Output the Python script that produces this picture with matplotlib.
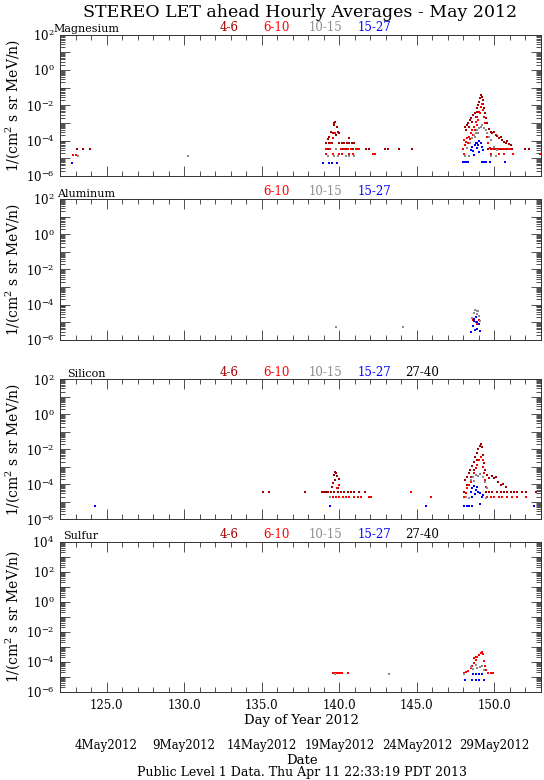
import matplotlib as mpl
mpl.use("Agg")
import matplotlib.pyplot as plt
import numpy as np
from matplotlib.ticker import MultipleLocator, FixedLocator, LogLocator, FuncFormatter, NullFormatter

plt.rcParams['font.family'] = ['DejaVu Serif']
plt.rcParams['mathtext.fontset'] = 'dejavuserif'

# hourly averages: (day of year 2012, log10 flux)
mg_46 = [(123.11, -4.49), (123.46, -4.49), (123.93, -4.49),
         (139.64, -3.02), (139.75, -2.92), (139.68, -3.11), (139.83, -3.21), (139.47, -3.49),
         (139.57, -3.58), (139.90, -3.49), (140.00, -3.58), (139.36, -3.77), (139.79, -3.68),
         (140.65, -3.87), (139.25, -3.92),
         (139.14, -4.15), (139.32, -4.15), (139.53, -4.15), (139.96, -4.15), (140.17, -4.15),
         (140.32, -4.15), (140.47, -4.15), (140.65, -4.15), (140.82, -4.15), (140.97, -4.15),
         (139.25, -4.49), (140.22, -4.49), (140.43, -4.49), (140.86, -4.49), (141.18, -4.49),
         (141.72, -4.49), (141.93, -4.49), (142.96, -4.49), (143.17, -4.49), (143.82, -4.49),
         (144.68, -4.49),
         (148.11, -3.21), (148.21, -3.11), (148.30, -2.98), (148.43, -2.83), (148.51, -2.73),
         (148.64, -2.55), (148.73, -2.41), (148.86, -2.17), (148.94, -1.98), (149.01, -1.79),
         (149.07, -1.60), (149.11, -1.41), (149.20, -1.51), (149.24, -1.70), (149.29, -1.92),
         (149.33, -2.17), (149.39, -2.45), (149.44, -2.73), (149.54, -3.02), (149.65, -3.36),
         (149.76, -3.49), (149.87, -3.58), (149.97, -3.49), (150.08, -3.68), (150.19, -3.74),
         (150.29, -3.87), (150.40, -3.81), (150.51, -3.96), (150.62, -4.06), (150.72, -4.11),
         (150.83, -4.00), (150.94, -4.19), (151.04, -4.24),
         (148.17, -3.40), (148.36, -3.21), (148.58, -2.92), (148.79, -2.64), (148.90, -2.36),
         (149.60, -4.49), (149.80, -4.49), (150.00, -4.49), (150.20, -4.49), (150.45, -4.49),
         (150.60, -4.49), (150.80, -4.49), (151.00, -4.49), (151.15, -4.49), (152.00, -4.49),
         (152.20, -4.49)]
mg_610 = [(122.86, -4.81), (123.00, -4.81),
          (139.14, -4.49), (139.40, -4.49), (139.79, -4.49), (140.11, -4.49), (140.32, -4.49),
          (140.54, -4.49), (140.75, -4.49), (141.07, -4.49), (141.29, -4.49),
          (139.14, -4.75), (139.57, -4.75), (139.96, -4.75), (140.17, -4.75), (140.65, -4.75),
          (140.86, -4.75), (142.19, -4.75), (142.32, -4.75),
          (139.47, -4.15), (139.57, -3.87), (139.75, -3.58),
          (148.04, -3.96), (148.15, -4.06), (148.26, -3.87), (148.36, -3.77), (148.47, -3.58),
          (148.58, -3.40), (148.69, -3.21), (148.79, -2.92), (148.90, -2.64), (149.01, -2.36),
          (149.11, -2.07), (149.20, -1.92), (149.26, -2.26), (149.33, -2.64), (149.37, -3.02),
          (149.44, -3.40), (149.50, -3.77), (149.59, -4.15), (149.72, -4.43),
          (148.09, -4.24), (148.30, -4.15), (148.43, -3.92), (148.64, -3.68), (148.73, -3.40),
          (148.86, -3.11), (148.94, -2.83), (149.07, -2.45),
          (148.00, -4.49), (149.90, -4.49), (150.10, -4.49), (150.30, -4.49), (150.50, -4.49),
          (150.70, -4.49), (150.90, -4.49), (151.00, -4.49),
          (148.02, -4.75), (149.80, -4.75), (150.30, -4.75), (150.60, -4.75), (151.20, -4.75),
          (152.95, -4.75)]
mg_1015 = [(123.18, -4.87), (130.25, -4.87),
           (139.25, -4.87), (139.68, -4.87), (139.90, -4.87), (140.43, -4.87), (140.65, -4.87),
           (140.97, -4.87), (139.79, -4.49),
           (148.11, -4.87), (148.26, -4.43), (148.43, -4.15), (148.58, -3.87), (148.69, -3.68),
           (148.79, -3.55), (148.90, -3.40), (149.01, -3.30), (149.11, -3.21), (149.22, -3.11),
           (149.33, -3.30), (149.44, -3.40), (149.54, -3.58), (149.65, -3.77), (149.80, -3.96),
           (149.97, -4.34), (150.19, -4.53), (148.36, -4.87), (149.76, -4.87), (150.08, -4.87),
           (148.73, -3.81), (148.94, -3.58)]
mg_1527 = [(122.75, -5.28),
           (138.95, -5.25), (139.35, -5.25), (139.55, -5.25), (139.85, -5.25),
           (148.00, -5.23), (148.05, -5.23), (148.10, -5.23), (148.15, -5.23), (148.20, -5.23),
           (148.30, -5.23), (149.20, -5.23), (149.30, -5.23), (149.45, -5.23), (149.70, -5.23),
           (150.70, -5.23),
           (148.47, -4.53), (148.58, -4.34), (148.64, -4.57), (148.73, -4.24), (148.79, -4.15),
           (148.86, -4.43), (148.90, -4.11), (148.96, -4.24), (149.03, -4.00), (149.11, -4.15),
           (149.18, -4.34), (149.24, -4.53), (148.69, -4.81), (148.98, -4.62)]

al_610 = [(148.60, -4.85), (148.80, -5.00), (149.00, -4.85), (148.90, -5.10)]
al_1015 = [(139.80, -5.26), (144.10, -5.26), (148.55, -4.75), (148.65, -4.45), (148.75, -4.30),
           (148.85, -4.35), (148.90, -4.55), (149.00, -4.65), (148.70, -4.90), (149.05, -4.95),
           (148.95, -4.35)]
al_1527 = [(148.50, -5.55), (148.60, -5.20), (148.65, -4.80), (148.70, -4.95), (148.80, -4.70),
           (148.85, -5.00), (148.90, -5.35), (149.00, -5.10), (149.05, -5.50), (148.75, -5.45)]

si_46 = [(135.10, -4.46), (135.50, -4.46),
         (139.64, -3.47), (139.71, -3.28), (139.79, -3.37), (139.88, -3.53), (139.97, -3.72),
         (139.58, -3.94), (139.54, -4.13), (139.75, -3.75), (139.90, -4.23),
         (137.76, -4.46), (138.89, -4.46), (139.00, -4.46), (139.15, -4.46), (139.26, -4.46),
         (139.47, -4.46), (139.69, -4.46), (139.90, -4.46), (140.12, -4.46), (140.33, -4.46),
         (140.54, -4.46), (140.76, -4.46), (140.97, -4.46), (141.29, -4.46), (141.66, -4.46),
         (149.12, -1.70), (148.11, -3.75), (148.22, -3.56), (148.33, -3.37), (148.43, -3.18),
         (148.54, -2.95), (148.65, -2.71), (148.75, -2.46), (148.86, -2.23), (148.97, -2.00),
         (149.05, -1.81), (149.18, -1.89), (149.27, -2.33), (149.33, -2.80), (149.40, -3.18),
         (149.55, -3.47), (149.65, -3.66), (149.83, -3.53), (149.98, -3.66), (150.08, -3.56),
         (150.25, -3.85), (150.40, -4.04), (150.56, -3.98), (150.73, -4.14),
         (148.26, -4.04), (148.48, -3.56), (148.69, -3.18), (148.90, -2.61),
         (148.05, -4.46), (149.44, -4.46), (149.65, -4.46), (149.87, -4.46), (150.19, -4.46),
         (150.40, -4.46), (150.62, -4.46), (150.83, -4.46), (151.05, -4.46), (151.26, -4.46),
         (151.48, -4.46), (151.80, -4.46), (152.01, -4.46), (152.66, -4.46)]
si_610 = [(140.01, -4.04), (139.84, -4.23),
          (139.37, -4.71), (139.58, -4.71), (139.79, -4.71), (140.01, -4.71), (140.22, -4.71),
          (140.44, -4.71), (140.65, -4.71), (140.97, -4.71), (141.19, -4.71), (141.40, -4.71),
          (141.94, -4.71), (142.04, -4.71), (144.62, -4.46), (145.90, -4.71),
          (148.15, -4.52), (148.26, -4.23), (148.37, -4.04), (148.48, -3.85), (148.58, -3.56),
          (148.69, -3.37), (148.80, -3.09), (148.90, -2.90), (149.01, -2.61), (149.12, -2.42),
          (149.23, -2.61), (149.27, -2.99), (149.33, -3.37), (149.40, -3.75), (149.48, -4.13),
          (148.05, -4.71), (149.55, -4.71), (149.76, -4.71), (149.98, -4.71), (150.30, -4.71),
          (150.51, -4.71), (150.83, -4.71), (151.15, -4.71), (151.48, -4.71), (152.01, -4.71)]
si_1015 = [(139.37, -4.71),
           (148.15, -4.71), (148.48, -3.75), (148.63, -3.56), (148.80, -3.47), (148.95, -3.53),
           (149.08, -3.43), (149.23, -3.60), (149.40, -3.85), (149.55, -4.23), (148.69, -3.79),
           (148.37, -4.80), (149.44, -4.80)]
si_1527 = [(124.25, -5.24), (139.41, -5.22), (145.58, -5.22), (152.55, -5.22),
           (148.05, -5.22), (148.20, -5.22), (148.37, -5.22), (148.58, -5.22), (149.08, -5.13),
           (148.58, -4.23), (148.69, -4.10), (148.80, -4.33), (148.90, -4.13), (148.97, -4.42),
           (149.08, -4.52), (149.18, -4.71), (149.27, -4.61), (148.48, -4.42), (148.75, -4.55),
           (148.54, -4.74)]

s_610 = [(139.58, -4.78), (139.68, -4.78), (139.79, -4.78), (139.90, -4.78), (140.05, -4.78),
         (140.18, -4.78), (140.54, -4.78),
         (148.04, -4.78), (148.15, -4.66), (148.30, -4.60), (148.47, -4.44), (148.58, -4.29),
         (148.69, -4.06), (148.79, -3.89), (148.90, -3.71), (149.01, -3.55), (149.12, -3.44),
         (149.22, -3.33), (149.29, -3.49), (149.33, -3.93), (149.39, -4.29), (149.44, -4.55),
         (149.59, -4.73), (149.76, -4.73), (149.91, -4.73), (148.69, -3.78), (148.84, -3.66)]
s_1015 = [(139.75, -4.84), (143.18, -4.84),
          (148.04, -4.84), (148.47, -4.33), (148.62, -4.51), (148.79, -4.22), (148.90, -4.44),
          (149.05, -4.38), (149.18, -4.29), (149.33, -4.55)]
s_1527 = [(148.62, -4.84), (148.84, -4.84), (149.01, -4.84), (149.18, -4.84),
          (148.11, -5.22), (148.58, -5.22), (148.79, -5.22), (149.01, -5.22), (149.33, -5.22)]

ranges = ["4-6", "6-10", "10-15", "15-27", "27-40"]
range_colors = {"4-6": "#a00000", "6-10": "#ff0000", "10-15": "#8c8c8c",
                "15-27": "#0000ff", "27-40": "#000000"}
range_xpos = {"4-6": 0.351, "6-10": 0.449, "10-15": 0.553, "15-27": 0.653, "27-40": 0.753}

day_ticks = [125, 130, 135, 140, 145, 150]
date_labels = ["4May2012", "9May2012", "14May2012", "19May2012", "24May2012", "29May2012"]

# name, name x (axes frac), y decades, labels shown, series, axes rect
panels = [
    ("Magnesium", -0.014, (-6, 2), ["4-6", "6-10", "10-15", "15-27"],
     {"4-6": mg_46, "6-10": mg_610, "10-15": mg_1015, "15-27": mg_1527},
     [0.1103, 0.7744, 0.8842, 0.1812]),
    ("Aluminum", -0.006, (-6, 2), ["6-10", "10-15", "15-27"],
     {"6-10": al_610, "10-15": al_1015, "15-27": al_1527},
     [0.1103, 0.5641, 0.8842, 0.1808]),
    ("Silicon", 0.014, (-6, 2), ranges,
     {"4-6": si_46, "6-10": si_610, "10-15": si_1015, "15-27": si_1527},
     [0.1103, 0.3342, 0.8842, 0.1795]),
    ("Sulfur", 0.007, (-6, 4), ranges,
     {"6-10": s_610, "10-15": s_1015, "15-27": s_1527},
     [0.1103, 0.1132, 0.8842, 0.1923]),
]


def ylab(v, pos):
    e = int(round(np.log10(v)))
    if e % 2:
        return ""
    return r"$10^{%d}$" % e


fig = plt.figure(figsize=(5.44, 7.80), dpi=100)
axes = []
for name, nx, (lo, hi), labels, series, rect in panels:
    ax = fig.add_axes(rect)
    axes.append(ax)
    ax.set_yscale("log")
    ax.set_xlim(122, 153)
    ax.set_ylim(10.0 ** lo, 10.0 ** hi)
    for key, pts in series.items():
        arr = np.array(pts)
        ax.plot(arr[:, 0], 10 ** arr[:, 1], ls="none", marker="s", ms=1.8, mew=0,
                color=range_colors[key], clip_on=False)
    ax.xaxis.set_major_locator(MultipleLocator(5))
    ax.xaxis.set_minor_locator(MultipleLocator(1))
    ax.yaxis.set_major_locator(FixedLocator(10.0 ** np.arange(lo, hi + 1)))
    ax.yaxis.set_minor_locator(LogLocator(base=10, subs=np.arange(2, 10), numticks=50))
    ax.yaxis.set_major_formatter(FuncFormatter(ylab))
    ax.yaxis.set_minor_formatter(NullFormatter())
    ax.xaxis.set_major_formatter(NullFormatter())
    ax.tick_params(which="both", direction="in", top=True, right=True, width=0.6,
                   color="#333333", labelsize=8.5, pad=4)
    ax.tick_params(which="major", length=7.5)
    ax.tick_params(which="minor", length=3.5)
    for sp in ax.spines.values():
        sp.set_linewidth(0.7)
        sp.set_color("#333333")
    ax.set_ylabel("1/(cm$^2$ s sr MeV/n)", fontsize=10)
    ax.yaxis.set_label_coords(-0.078, 0.5)
    ax.text(nx, 1.002, name, transform=ax.transAxes, fontsize=8, va="bottom", ha="left")
    for lab in labels:
        ax.text(range_xpos[lab], 1.004, lab, transform=ax.transAxes, fontsize=8.5,
                color=range_colors[lab], ha="center", va="bottom")

ax4 = axes[-1]
ax4.xaxis.set_major_formatter(FuncFormatter(lambda v, p: "%.1f" % v))
ax4.tick_params(axis="x", labelsize=8.5, pad=5)

fig.text(0.552, 0.984, "STEREO LET ahead Hourly Averages - May 2012", ha="center",
         va="center", fontsize=12.5)
fig.text(0.555, 0.0768, "Day of Year 2012", ha="center", va="center", fontsize=9.5)
trans = mpl.transforms.blended_transform_factory(ax4.transData, fig.transFigure)
for d, lab in zip(day_ticks, date_labels):
    ax4.text(d, 0.0446, lab, transform=trans, ha="center", va="center", fontsize=8.5)
fig.text(0.555, 0.0256, "Date", ha="center", va="center", fontsize=9.5)
fig.text(0.555, 0.0090, "Public Level 1 Data. Thu Apr 11 22:33:19 PDT 2013", ha="center",
         va="center", fontsize=9)

fig.savefig("out.png", dpi=100)
